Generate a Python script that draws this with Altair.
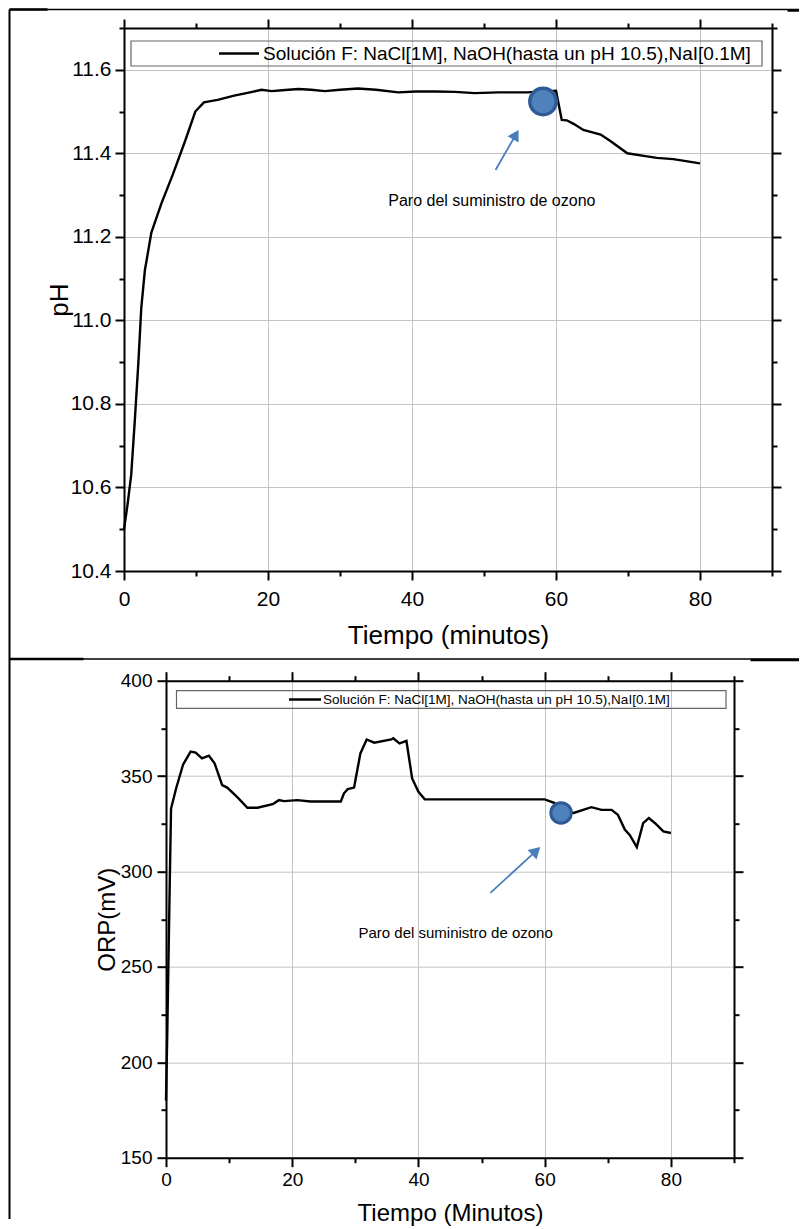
import altair as alt
import pandas as pd

# ---------------- data ----------------
PH_TIME = [0, 0.5, 1.0, 1.5, 2.0, 2.4, 2.9, 3.8, 5.2, 6.8, 8.5, 9.9, 11.1, 13.0, 15.3,
           17.5, 19.1, 20.5, 22.0, 24.2, 26.0, 27.9, 30.0, 32.5, 35.0, 38.1, 40.5, 43.2,
           46.0, 48.7, 52.0, 56.0, 60.0, 60.8, 61.5, 62.5, 63.8, 66.2, 67.5, 69.9, 72.2,
           74.0, 76.3, 80.0]
PH_VALUE = [10.50, 10.56, 10.63, 10.76, 10.90, 11.03, 11.12, 11.21, 11.28, 11.35, 11.43,
            11.50, 11.522, 11.528, 11.538, 11.546, 11.552, 11.549, 11.551, 11.554, 11.552,
            11.549, 11.552, 11.555, 11.552, 11.546, 11.548, 11.548, 11.547, 11.544, 11.546,
            11.546, 11.550, 11.48, 11.479, 11.47, 11.456, 11.445, 11.43, 11.40, 11.394,
            11.389, 11.386, 11.376]

ORP_TIME = [0, 0.2, 0.4, 0.6, 0.8, 1.6, 2.7, 3.9, 4.7, 5.7, 6.8, 7.7, 8.9, 9.7, 11.3,
            12.9, 14.5, 16.9, 17.9, 18.7, 20.8, 22.9, 27.7, 28.2, 28.8, 29.8, 30.8, 31.8,
            33.0, 35.7, 36.0, 37.0, 38.1, 39.0, 40.0, 41.0, 48.4, 60.0, 61.5, 63.0, 64.6,
            67.4, 69.0, 70.6, 71.6, 72.7, 73.5, 74.6, 75.6, 76.5, 77.5, 78.8, 80.0]
ORP_VALUE = [180, 215, 255, 295, 333, 343.5, 356, 362.8, 362.3, 359.3, 360.7, 356.7, 345.3,
             344, 339, 333.4, 333.4, 335.3, 337.4, 336.9, 337.4, 336.7, 336.7, 341, 343.2,
             344, 361.9, 369.2, 367.5, 369.2, 369.8, 367.1, 368.4, 348.8, 341.8, 337.8,
             337.8, 337.8, 336, 332, 330.7, 333.7, 332.3, 332.3, 329.7, 322, 319, 312.8,
             325.3, 328, 325.3, 321, 320.2]

X_TICKS = [0, 10, 20, 30, 40, 50, 60, 70, 80, 90]
PH_TICKS = [10.4, 10.5, 10.6, 10.7, 10.8, 10.9, 11.0, 11.1, 11.2, 11.3, 11.4, 11.5, 11.6, 11.7]
ORP_TICKS = [150, 175, 200, 225, 250, 275, 300, 325, 350, 375, 400]

LEGEND_LABEL = ["Solución F: NaCl[1M], NaOH(hasta un pH 10.5),NaI[0.1M]"]
NOTE_LABEL = ["Paro del suministro de ozono"]

# annotations (data units)
PH_STOP_T, PH_STOP_V = [58.2], [11.524]
PH_ARROW_T, PH_ARROW_V, PH_ARROW_T2, PH_ARROW_V2 = [51.6], [11.36], [54.42], [11.4446]
PH_NOTE_T, PH_NOTE_V = [36.7], [11.287]

ORP_STOP_T, ORP_STOP_V = [62.6], [330.7]
ORP_ARROW_T, ORP_ARROW_V, ORP_ARROW_T2, ORP_ARROW_V2 = [51.4], [288.8], [58.65], [310.8]
ORP_NOTE_T, ORP_NOTE_V = [30.5], [267.6]

FONT = "Liberation Sans"
BLUE = "#4a7ebb"
ydomain_ticks = {"pH": PH_TICKS, "ORP(mV)": ORP_TICKS}


def make_axis(orient, values, major, fmt, labels=False, title=None, lab_size=18,
              title_size=24, label_pad=6, title_pad=8, grid=False):
    kw = dict(orient=orient, values=values,
              tickSize={"condition": {"test": major, "value": 9}, "value": 5},
              domainColor="black", domainWidth=2, tickColor="black", tickWidth=2,
              labelFlush=False, labelOverlap=False, grid=grid)
    if grid:
        kw["gridColor"] = "#c4c4c4"
        kw["gridWidth"] = 1
        kw["gridOpacity"] = {"condition": {"test": major, "value": 1}, "value": 0}
    if labels:
        kw.update(labels=True, labelExpr=f"({major}) ? {fmt} : ''", labelFont=FONT,
                  labelFontSize=lab_size, labelColor="black", labelPadding=label_pad,
                  title=title, titleFont=FONT, titleFontSize=title_size,
                  titleFontWeight="normal", titleColor="black", titlePadding=title_pad)
    else:
        kw.update(labels=False, title=None)
    return alt.Axis(**kw)


def panel(time, value, ydomain, xmajor, ymajor, yfmt, ytitle, xtitle, w, h,
          lab_size, title_size, xlab_pad, xtitle_pad, ylab_pad, ytitle_pad,
          stop, arrow, note, marker_size, marker_stroke, head_size, head_angle,
          note_size, legend, extra):
    df = pd.DataFrame({"t": time, "v": value})
    xs = alt.Scale(domain=[0, 90], nice=False, zero=False)
    ys = alt.Scale(domain=ydomain, nice=False, zero=False)
    ax_b = make_axis("bottom", X_TICKS, xmajor, "datum.label", labels=True, title=xtitle,
                     lab_size=lab_size, title_size=title_size, label_pad=xlab_pad,
                     title_pad=xtitle_pad, grid=True)
    ax_l = make_axis("left", ydomain_ticks[ytitle], ymajor, yfmt, labels=True, title=ytitle,
                     lab_size=lab_size, title_size=title_size, label_pad=ylab_pad,
                     title_pad=ytitle_pad, grid=True)
    ax_t = make_axis("top", X_TICKS, xmajor, "datum.label")
    ax_r = make_axis("right", ydomain_ticks[ytitle], ymajor, yfmt)

    frame = alt.Chart(df).mark_line(opacity=0).encode(
        x=alt.X("t:Q", scale=xs, axis=ax_t), y=alt.Y("v:Q", scale=ys, axis=ax_r))
    line = alt.Chart(df).mark_line(color="black", strokeWidth=2.4).encode(
        x=alt.X("t:Q", scale=xs, axis=ax_b), y=alt.Y("v:Q", scale=ys, axis=ax_l))

    sdf = pd.DataFrame({"t": stop[0], "v": stop[1]})
    marker = alt.Chart(sdf).mark_point(shape="circle", filled=True, fill="#4f81bd",
                                       stroke="#2f5a95", strokeWidth=marker_stroke,
                                       size=marker_size, opacity=1).encode(
        x=alt.X("t:Q", scale=xs, axis=None), y=alt.Y("v:Q", scale=ys, axis=None))

    adf = pd.DataFrame({"t": arrow[0], "v": arrow[1], "t2": arrow[2], "v2": arrow[3]})
    shaft = alt.Chart(adf).mark_rule(color=BLUE, strokeWidth=1.8).encode(
        x=alt.X("t:Q", scale=xs, axis=None), y=alt.Y("v:Q", scale=ys, axis=None),
        x2="t2:Q", y2="v2:Q")
    head = alt.Chart(adf).mark_point(shape="triangle-up", filled=True, color=BLUE,
                                     size=head_size, angle=head_angle, opacity=1).encode(
        x=alt.X("t2:Q", scale=xs, axis=None), y=alt.Y("v2:Q", scale=ys, axis=None))

    ndf = pd.DataFrame({"t": note[0], "v": note[1], "label": NOTE_LABEL})
    note_txt = alt.Chart(ndf).mark_text(align="left", baseline="middle", font=FONT,
                                        fontSize=note_size, color="black").encode(
        x=alt.X("t:Q", scale=xs, axis=None), y=alt.Y("v:Q", scale=ys, axis=None),
        text="label:N")

    lx1, lx2, ly1, ly2, sx1, sx2, tx, lsize = legend
    ldf = pd.DataFrame({"label": LEGEND_LABEL})
    lbox = alt.Chart(ldf).mark_rect(fill=None, stroke="#666666", strokeWidth=1.2).encode(
        x=alt.value(lx1), x2=alt.value(lx2), y=alt.value(ly1), y2=alt.value(ly2))
    lline = alt.Chart(ldf).mark_rule(color="black", strokeWidth=2.5).encode(
        x=alt.value(sx1), x2=alt.value(sx2), y=alt.value((ly1 + ly2) / 2))
    ltext = alt.Chart(ldf).mark_text(align="left", baseline="middle", font=FONT,
                                     fontSize=lsize, color="black").encode(
        x=alt.value(tx), y=alt.value((ly1 + ly2) / 2 + 0.5), text="label:N")

    layers = [frame, line, shaft, head, marker, note_txt, lbox, lline, ltext] + extra
    return alt.layer(*layers).resolve_axis(x="independent", y="independent").properties(
        width=w, height=h)


# table borders (decoration), relative to the top plot origin
bdf = pd.DataFrame({"k": [0]})
borders = [
    alt.Chart(bdf).mark_rule(color="black", strokeWidth=2).encode(
        x=alt.value(-114.5), y=alt.value(-18.5), y2=alt.value(1191)),
    alt.Chart(bdf).mark_rule(color="black", strokeWidth=1.5).encode(
        x=alt.value(-114.5), x2=alt.value(675), y=alt.value(-18.5)),
    alt.Chart(bdf).mark_rule(color="black", strokeWidth=2.5).encode(
        x=alt.value(-114.5), x2=alt.value(-76.5), y=alt.value(-18.5)),
    alt.Chart(bdf).mark_rule(color="black", strokeWidth=2.5).encode(
        x=alt.value(663.5), x2=alt.value(675), y=alt.value(-17.5)),
    alt.Chart(bdf).mark_rule(color="black", strokeWidth=1.5).encode(
        x=alt.value(-114.5), x2=alt.value(675), y=alt.value(631)),
    alt.Chart(bdf).mark_rule(color="black", strokeWidth=2.5).encode(
        x=alt.value(-114.5), x2=alt.value(-40.5), y=alt.value(631)),
    alt.Chart(bdf).mark_rule(color="black", strokeWidth=2.5).encode(
        x=alt.value(626.5), x2=alt.value(675), y=alt.value(632)),
]

top = panel(PH_TIME, PH_VALUE, [10.4, 11.7], "datum.value % 20 === 0",
            "round(datum.value*10) % 2 === 0", "format(datum.value, '.1f')",
            "pH", "Tiempo (minutos)", 648, 543,
            lab_size=21, title_size=26, xlab_pad=8, xtitle_pad=13, ylab_pad=4, ytitle_pad=-2,
            stop=(PH_STOP_T, PH_STOP_V),
            arrow=(PH_ARROW_T, PH_ARROW_V, PH_ARROW_T2, PH_ARROW_V2),
            note=(PH_NOTE_T, PH_NOTE_V), marker_size=700, marker_stroke=3.5,
            head_size=160, head_angle=30, note_size=16,
            legend=(7, 638, 13, 38, 95, 135, 139, 19), extra=borders)

bottom = panel(ORP_TIME, ORP_VALUE, [150, 400], "datum.value % 20 === 0",
               "datum.value % 50 === 0", "datum.label",
               "ORP(mV)", "Tiempo (Minutos)", 568, 477,
               lab_size=19, title_size=24, xlab_pad=4, xtitle_pad=12, ylab_pad=5, ytitle_pad=1,
               stop=(ORP_STOP_T, ORP_STOP_V),
               arrow=(ORP_ARROW_T, ORP_ARROW_V, ORP_ARROW_T2, ORP_ARROW_V2),
               note=(ORP_NOTE_T, ORP_NOTE_V), marker_size=420, marker_stroke=3,
               head_size=170, head_angle=47, note_size=15,
               legend=(10.5, 560, 10, 27.6, 123, 155, 157, 13.5), extra=[])

spacer = alt.Chart(bdf).mark_point(opacity=0).encode(
    x=alt.value(0), y=alt.value(0)).properties(width=42, height=10)

chart = alt.vconcat(
    top,
    alt.hconcat(spacer, bottom, spacing=0, bounds="flush"),
    spacing=109.7, bounds="flush",
).properties(padding={"left": 0, "top": 0, "right": 0, "bottom": 0},
             background="white").configure_view(stroke=None)

chart.save("out.html", embed_options={"renderer": "svg", "actions": False})
